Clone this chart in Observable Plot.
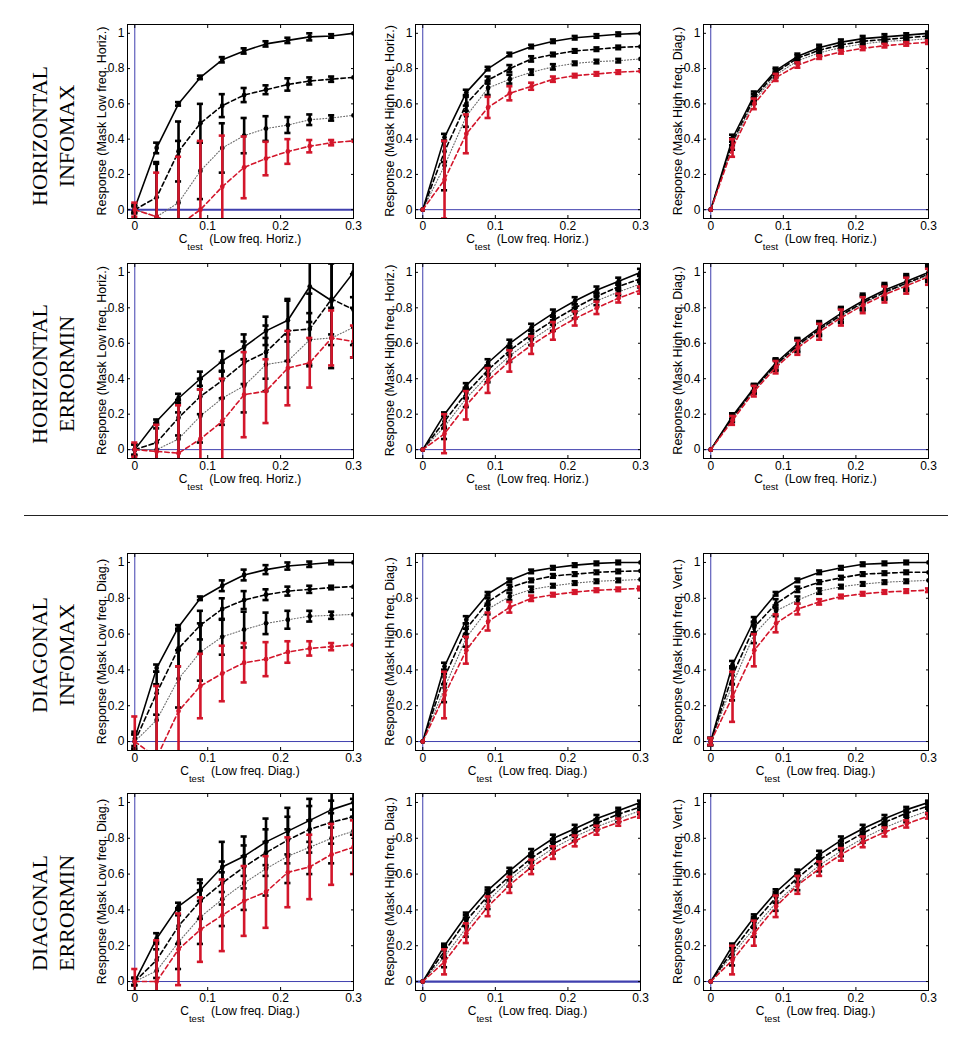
<!DOCTYPE html>
<html><head><meta charset="utf-8">
<script src="https://cdn.jsdelivr.net/npm/d3@7"></script>
<script src="https://cdn.jsdelivr.net/npm/@observablehq/plot@0.6"></script>
<style>
body{margin:0;background:#fff;}
#root{position:relative;width:976px;height:1037px;background:#fff;overflow:hidden;}
.rowlab{position:absolute;width:200px;height:54px;font-family:"Liberation Serif","Times New Roman",serif;font-size:22px;line-height:27px;text-align:center;transform:rotate(-90deg);white-space:nowrap;color:#000;}
#divider{position:absolute;left:24px;top:515px;width:924px;height:1px;background:#222;}
</style></head><body><div id="root"></div>
<script>
// ---------- data ----------
const cTest = [0, 0.03, 0.06, 0.09, 0.12, 0.15, 0.18, 0.21, 0.24, 0.27, 0.30];
const seriesNames = ["solid", "dashed", "dotted", "red"];
const xTicks = [0, 0.1, 0.2, 0.3];
const yTicks = [0, 0.2, 0.4, 0.6, 0.8, 1];
const rowLabels = [["HORIZONTAL", "INFOMAX"], ["HORIZONTAL", "ERRORMIN"], ["DIAGONAL", "INFOMAX"], ["DIAGONAL", "ERRORMIN"]];
const yLabelsHoriz = ["Response (Mask Low freq. Horiz.)", "Response (Mask High freq. Horiz.)", "Response (Mask High freq. Diag.)"];
const yLabelsDiag = ["Response (Mask Low freq. Diag.)", "Response (Mask High freq. Diag.)", "Response (Mask High freq. Vert.)"];
const xLabelsRow = ["(Low freq. Horiz.)", "(Low freq. Horiz.)", "(Low freq. Diag.)", "(Low freq. Diag.)"];

// series order: solid, dashed, dotted, red ; *_y = mean, *_e = error half-width
const r1c1_y = [
 [0.01,0.35,0.60,0.75,0.85,0.90,0.94,0.96,0.98,0.985,1.00],
 [0.00,0.07,0.33,0.49,0.59,0.65,0.68,0.71,0.73,0.74,0.75],
 [0.00,-0.04,0.04,0.22,0.35,0.42,0.46,0.48,0.51,0.52,0.535],
 [0.00,-0.04,-0.09,0.00,0.13,0.24,0.29,0.33,0.36,0.38,0.39]];
const r1c1_e = [
 [0.02,0.03,0.01,0.01,0.015,0.015,0.015,0.015,0.02,0.01,0],
 [0.02,0.2,0.17,0.11,0.065,0.04,0.025,0.035,0.02,0.015,0],
 [0.02,0.3,0.35,0.16,0.14,0.1,0.07,0.045,0.03,0.015,0],
 [0.04,0.25,0.39,0.39,0.29,0.175,0.095,0.07,0.035,0.015,0]];

const r1c2_y = [
 [0,0.41,0.665,0.80,0.88,0.925,0.955,0.975,0.985,0.995,1.0],
 [0,0.33,0.60,0.735,0.80,0.855,0.88,0.90,0.91,0.92,0.925],
 [0,0.25,0.53,0.69,0.74,0.78,0.81,0.83,0.84,0.845,0.855],
 [0,0.17,0.43,0.58,0.66,0.70,0.74,0.76,0.77,0.78,0.785]];
const r1c2_e = [
 [0,0.02,0.015,0.01,0.01,0.01,0.01,0.01,0.01,0.01,0],
 [0,0.06,0.04,0.02,0.02,0.015,0.01,0.01,0.01,0.01,0],
 [0,0.14,0.06,0.04,0.025,0.015,0.015,0.01,0.01,0.01,0],
 [0,0.22,0.11,0.06,0.04,0.02,0.015,0.01,0.01,0.01,0]];

const r1c3_y = [
 [0,0.405,0.65,0.79,0.87,0.92,0.95,0.97,0.98,0.99,1.0],
 [0,0.385,0.635,0.78,0.86,0.905,0.935,0.955,0.965,0.975,0.985],
 [0,0.37,0.62,0.765,0.845,0.89,0.92,0.94,0.955,0.96,0.97],
 [0,0.35,0.60,0.75,0.82,0.865,0.895,0.915,0.93,0.94,0.95]];
const r1c3_e = [
 [0,0.02,0.02,0.015,0.015,0.015,0.015,0.015,0.015,0.01,0.01],
 [0,0.02,0.02,0.015,0.015,0.015,0.015,0.015,0.015,0.01,0.01],
 [0,0.03,0.02,0.015,0.015,0.015,0.015,0.015,0.01,0.01,0.01],
 [0,0.05,0.03,0.02,0.015,0.01,0.01,0.01,0.01,0.01,0.01]];

const r2c1_y = [
 [0,0.16,0.29,0.40,0.50,0.58,0.67,0.73,0.92,0.84,1.00],
 [0,0.04,0.18,0.30,0.39,0.49,0.55,0.67,0.68,0.85,0.79],
 [0,0.00,0.06,0.19,0.29,0.36,0.48,0.50,0.62,0.63,0.69],
 [0,-0.01,-0.02,0.06,0.16,0.31,0.33,0.46,0.49,0.63,0.61]];
const r2c1_e = [
 [0.03,0.01,0.025,0.04,0.055,0.07,0.08,0.12,0.2,0.25,0.2],
 [0.03,0.1,0.1,0.1,0.1,0.12,0.15,0.17,0.2,0.2,0.2],
 [0.03,0.12,0.15,0.15,0.15,0.15,0.15,0.15,0.15,0.17,0.17],
 [0.04,0.15,0.27,0.28,0.24,0.24,0.18,0.21,0.14,0.155,0.09]];

const r2c2_y = [
 [0,0.20,0.36,0.49,0.60,0.69,0.77,0.84,0.90,0.95,1.00],
 [0,0.16,0.32,0.45,0.56,0.65,0.73,0.80,0.865,0.92,0.965],
 [0,0.13,0.29,0.42,0.53,0.62,0.70,0.77,0.84,0.89,0.935],
 [0,0.09,0.25,0.39,0.50,0.59,0.67,0.74,0.80,0.855,0.90]];
const r2c2_e = [
 [0,0.01,0.015,0.02,0.02,0.02,0.02,0.02,0.02,0.02,0.02],
 [0,0.04,0.03,0.025,0.025,0.025,0.025,0.02,0.02,0.02,0.02],
 [0,0.07,0.05,0.04,0.035,0.03,0.03,0.03,0.025,0.02,0.02],
 [0,0.11,0.08,0.07,0.06,0.05,0.05,0.04,0.035,0.025,0.02]];

const r2c3_y = [
 [0,0.19,0.35,0.49,0.60,0.69,0.77,0.84,0.90,0.95,1.00],
 [0,0.18,0.345,0.48,0.59,0.68,0.76,0.83,0.89,0.94,0.99],
 [0,0.175,0.34,0.475,0.585,0.675,0.755,0.825,0.885,0.935,0.985],
 [0,0.165,0.33,0.465,0.575,0.665,0.745,0.815,0.875,0.925,0.975]];
const r2c3_e = [
 [0,0.015,0.02,0.025,0.03,0.035,0.035,0.04,0.04,0.04,0.04],
 [0,0.02,0.025,0.03,0.035,0.035,0.04,0.04,0.04,0.04,0.04],
 [0,0.02,0.025,0.03,0.035,0.035,0.04,0.04,0.04,0.04,0.04],
 [0,0.025,0.03,0.035,0.04,0.045,0.045,0.045,0.045,0.045,0.045]];

const r3c1_y = [
 [0.015,0.41,0.64,0.80,0.87,0.93,0.96,0.98,0.99,1.00,1.00],
 [0,0.27,0.52,0.65,0.74,0.79,0.82,0.84,0.85,0.86,0.865],
 [0,0.12,0.35,0.50,0.585,0.625,0.66,0.68,0.70,0.705,0.71],
 [0,-0.09,0.17,0.31,0.38,0.44,0.46,0.50,0.52,0.53,0.54]];
const r3c1_e = [
 [0.04,0.02,0.01,0.01,0.03,0.03,0.025,0.02,0.015,0.01,0],
 [0.04,0.12,0.1,0.08,0.06,0.05,0.03,0.025,0.02,0.01,0],
 [0.04,0.2,0.16,0.16,0.1,0.1,0.06,0.05,0.03,0.02,0],
 [0.14,0.40,0.25,0.18,0.155,0.11,0.095,0.06,0.04,0.02,0]];

const r3c2_y = [
 [0,0.42,0.68,0.825,0.90,0.95,0.97,0.985,0.995,1.0,1.0],
 [0,0.36,0.63,0.78,0.86,0.90,0.925,0.935,0.945,0.95,0.953],
 [0,0.30,0.58,0.74,0.81,0.85,0.87,0.885,0.895,0.90,0.905],
 [0,0.26,0.51,0.67,0.75,0.80,0.82,0.835,0.845,0.85,0.855]];
const r3c2_e = [
 [0,0.02,0.02,0.01,0.01,0.01,0.01,0.01,0.01,0.01,0],
 [0,0.04,0.03,0.02,0.015,0.01,0.01,0.01,0.01,0.01,0],
 [0,0.08,0.05,0.03,0.02,0.015,0.01,0.01,0.01,0.01,0],
 [0,0.13,0.075,0.05,0.03,0.015,0.01,0.01,0.01,0.01,0.01]];

const r3c3_y = [
 [0,0.43,0.68,0.825,0.90,0.945,0.97,0.99,0.995,1.0,1.0],
 [0,0.37,0.64,0.77,0.85,0.89,0.915,0.935,0.94,0.945,0.945],
 [0,0.32,0.60,0.73,0.79,0.84,0.865,0.88,0.89,0.895,0.90],
 [0,0.25,0.51,0.66,0.74,0.78,0.81,0.825,0.835,0.84,0.845]];
const r3c3_e = [
 [0.02,0.02,0.015,0.01,0.01,0.01,0.01,0.01,0.01,0.01,0],
 [0.02,0.05,0.03,0.025,0.015,0.01,0.01,0.01,0.01,0.01,0],
 [0.02,0.09,0.05,0.03,0.02,0.015,0.01,0.01,0.01,0.01,0],
 [0.02,0.14,0.09,0.05,0.03,0.015,0.01,0.01,0.01,0.01,0.01]];

const r4c1_y = [
 [0,0.24,0.42,0.51,0.64,0.70,0.78,0.84,0.90,0.96,1.00],
 [0,0.12,0.31,0.45,0.55,0.64,0.72,0.79,0.85,0.89,0.92],
 [0,0.06,0.22,0.36,0.46,0.55,0.63,0.70,0.75,0.80,0.84],
 [0,0.00,0.18,0.29,0.37,0.45,0.50,0.61,0.64,0.71,0.75]];
const r4c1_e = [
 [0.02,0.03,0.02,0.06,0.14,0.11,0.13,0.13,0.12,0.1,0.08],
 [0.02,0.1,0.1,0.1,0.12,0.12,0.13,0.13,0.13,0.12,0.1],
 [0.02,0.12,0.15,0.15,0.15,0.15,0.15,0.15,0.15,0.14,0.12],
 [0.07,0.23,0.2,0.18,0.2,0.195,0.2,0.195,0.18,0.17,0.15]];

const r4c2_y = [
 [0,0.20,0.37,0.51,0.62,0.72,0.80,0.855,0.91,0.955,1.0],
 [0,0.17,0.34,0.48,0.59,0.69,0.77,0.83,0.885,0.935,0.975],
 [0,0.14,0.30,0.45,0.57,0.665,0.745,0.81,0.865,0.91,0.955],
 [0,0.11,0.27,0.42,0.54,0.64,0.72,0.785,0.845,0.89,0.93]];
const r4c2_e = [
 [0,0.01,0.015,0.015,0.015,0.02,0.02,0.02,0.02,0.015,0.01],
 [0,0.04,0.03,0.03,0.025,0.025,0.025,0.02,0.02,0.02,0.015],
 [0,0.06,0.05,0.045,0.04,0.035,0.03,0.025,0.02,0.02,0.02],
 [0,0.07,0.055,0.055,0.045,0.04,0.035,0.03,0.025,0.02,0.015]];

const r4c3_y = [
 [0,0.20,0.36,0.50,0.61,0.71,0.79,0.855,0.91,0.96,1.0],
 [0,0.17,0.33,0.47,0.58,0.68,0.76,0.83,0.89,0.94,0.98],
 [0,0.15,0.30,0.44,0.55,0.65,0.73,0.80,0.86,0.91,0.955],
 [0,0.12,0.27,0.42,0.54,0.63,0.71,0.78,0.835,0.88,0.925]];
const r4c3_e = [
 [0,0.01,0.015,0.015,0.015,0.02,0.02,0.02,0.02,0.015,0.01],
 [0,0.04,0.03,0.03,0.025,0.025,0.025,0.02,0.02,0.02,0.015],
 [0,0.06,0.05,0.045,0.04,0.035,0.03,0.025,0.02,0.02,0.02],
 [0,0.08,0.07,0.06,0.05,0.04,0.035,0.03,0.025,0.02,0.015]];

// ---------- layout / style ----------
const frameLeft = [127, 415, 703];
const frameW = [226, 225, 225];
const frameTop = [24, 263, 553, 793];
const frameH = [194, 195, 197, 197];
const rowLabelCenter = [136, 374, 655, 913];
const BLUE = "#3f3fae", RED = "#d3162b";
const ML = 45, MR = 10, MT = 6, MB = 40;

const panels = [
  [r1c1_y, r1c1_e, 0, 0, 2], [r1c2_y, r1c2_e, 0, 1, 1], [r1c3_y, r1c3_e, 0, 2, 1],
  [r2c1_y, r2c1_e, 1, 0, 1], [r2c2_y, r2c2_e, 1, 1, 1], [r2c3_y, r2c3_e, 1, 2, 1],
  [r3c1_y, r3c1_e, 2, 0, 1], [r3c2_y, r3c2_e, 2, 1, 1], [r3c3_y, r3c3_e, 2, 2, 1],
  [r4c1_y, r4c1_e, 3, 0, 1], [r4c2_y, r4c2_e, 3, 1, 2.2], [r4c3_y, r4c3_e, 3, 2, 1]
];

const root = document.getElementById("root");

rowLabels.forEach((lines, r) => {
  const d = document.createElement("div");
  d.className = "rowlab";
  d.style.left = (53 - 100) + "px";
  d.style.top = (rowLabelCenter[r] - 27) + "px";
  d.innerHTML = lines.join("<br>");
  root.appendChild(d);
});
const div = document.createElement("div");
div.id = "divider";
root.appendChild(div);

const CAP = 0.0042;
const lineStyle = {
  solid: {stroke: "#000", strokeWidth: 1.6},
  dashed: {stroke: "#000", strokeWidth: 1.6, strokeDasharray: "4.5,3"},
  dotted: {stroke: "#6a6a6a", strokeWidth: 1.1, strokeDasharray: "1,2"},
  red: {stroke: RED, strokeWidth: 1.6, strokeDasharray: "4.5,3"}
};

panels.forEach(([ys, es, r, c, zeroW]) => {
  const fw = frameW[c], fh = frameH[r];
  const rows = [];
  seriesNames.forEach((s, si) => cTest.forEach((x, i) => {
    rows.push({s, x, y: ys[si][i], lo: ys[si][i] - es[si][i], hi: ys[si][i] + es[si][i], e: es[si][i]});
  }));
  const ser = k => rows.filter(d => d.s === k);
  const blackE = rows.filter(d => d.s !== "red" && d.e > 0);
  const redE = rows.filter(d => d.s === "red" && d.e > 0);
  const bar = (data, color) => [
    Plot.ruleX(data, {x: "x", y1: "lo", y2: "hi", stroke: color, strokeWidth: 2.6, clip: true}),
    Plot.ruleY(data, {y: "lo", x1: d => d.x - CAP, x2: d => d.x + CAP, stroke: color, strokeWidth: 2.6, clip: true}),
    Plot.ruleY(data, {y: "hi", x1: d => d.x - CAP, x2: d => d.x + CAP, stroke: color, strokeWidth: 2.6, clip: true})
  ];
  const svg = Plot.plot({
    width: fw + ML + MR, height: fh + MT + MB,
    marginLeft: ML, marginRight: MR, marginTop: MT, marginBottom: MB,
    x: {domain: [-0.01, 0.3]},
    y: {domain: [-0.05, 1.05]},
    style: {fontFamily: "'Liberation Sans', Arial, sans-serif", fontSize: "12px", color: "#000", background: "transparent", overflow: "visible"},
    marks: [
      Plot.ruleX([0], {stroke: BLUE, strokeWidth: 1}),
      Plot.ruleY([0], {stroke: BLUE, strokeWidth: zeroW}),
      Plot.line(ser("dotted"), {x: "x", y: "y", ...lineStyle.dotted, clip: true}),
      Plot.line(ser("dashed"), {x: "x", y: "y", ...lineStyle.dashed, clip: true}),
      Plot.line(ser("solid"), {x: "x", y: "y", ...lineStyle.solid, clip: true}),
      ...bar(blackE, "#000"),
      Plot.dot(rows.filter(d => d.s !== "red"), {x: "x", y: "y", r: 2.4, fill: "#000", clip: true}),
      Plot.line(ser("red"), {x: "x", y: "y", ...lineStyle.red, clip: true}),
      ...bar(redE, RED),
      Plot.dot(ser("red"), {x: "x", y: "y", r: 2.4, fill: RED, clip: true}),
      Plot.frame({stroke: "#000", strokeWidth: 1}),
      Plot.axisX(xTicks, {tickSize: -3, tickPadding: 6, label: null, tickFormat: d => String(d)}),
      Plot.axisX(xTicks, {anchor: "top", tickSize: -3, label: null, tickFormat: () => ""}),
      Plot.axisY(yTicks, {tickSize: -3, tickPadding: 6, label: null, tickFormat: d => String(d)}),
      Plot.axisY(yTicks, {anchor: "right", tickSize: -3, label: null, tickFormat: () => ""})
    ]
  });
  svg.style.position = "absolute";
  svg.style.left = (frameLeft[c] - ML) + "px";
  svg.style.top = (frameTop[r] - MT) + "px";
  const s = d3.select(svg);
  const yLab = (r < 2 ? yLabelsHoriz : yLabelsDiag)[c];
  s.append("text")
    .attr("transform", `translate(${ML - 25},${MT + fh / 2}) rotate(-90)`)
    .attr("text-anchor", "middle").attr("dy", "0.35em")
    .attr("font-size", 12.5).attr("fill", "#000")
    .text(yLab);
  const xt = s.append("text")
    .attr("x", ML + fw / 2).attr("y", MT + fh + 25)
    .attr("text-anchor", "middle").attr("font-size", 12).attr("fill", "#000");
  xt.append("tspan").text("C");
  xt.append("tspan").attr("dy", 7).attr("font-size", 9.5).text("test");
  xt.append("tspan").attr("dy", -7).text("\u00a0\u00a0" + xLabelsRow[r]);
  root.appendChild(svg);
});
</script>
</body></html>
